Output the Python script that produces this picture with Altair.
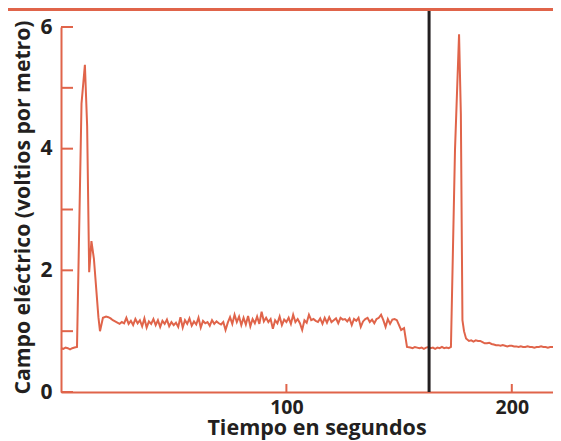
import altair as alt
import pandas as pd

# ---- data (time in seconds, field in V/m) ----
t_base1 = [0, 1, 2, 3, 4, 5, 6, 7.1]
v_base1 = [0.72, 0.71, 0.73, 0.72, 0.70, 0.72, 0.73, 0.74]

t_spike1 = [9.1, 10.6, 11.6, 12.5, 13.5, 14.6, 16.6, 17.3, 18.6]
v_spike1 = [4.74, 5.38, 4.37, 1.97, 2.48, 2.19, 1.23, 1.00, 1.22]

t_plateau = list(range(20, 150))
v_plateau = [
    1.24, 1.23, 1.21, 1.18, 1.16, 1.14, 1.12, 1.15, 1.13, 1.22,
    1.12, 1.17, 1.10, 1.20, 1.13, 1.18, 1.08, 1.21, 1.06, 1.16,
    1.12, 1.20, 1.10, 1.18, 1.07, 1.17, 1.12, 1.19, 1.08, 1.15,
    1.10, 1.14, 1.07, 1.23, 1.06, 1.18, 1.12, 1.21, 1.09, 1.16,
    1.11, 1.22, 1.06, 1.17, 1.13, 1.15, 1.09, 1.18, 1.12, 1.16,
    1.13, 1.11, 1.15, 1.02, 1.14, 1.23, 1.12, 1.27, 1.15, 1.24,
    1.10, 1.22, 1.11, 1.25, 1.08, 1.20, 1.13, 1.24, 1.12, 1.32,
    1.16, 1.22, 1.15, 1.20, 1.04, 1.18, 1.13, 1.24, 1.10, 1.19,
    1.15, 1.22, 1.12, 1.27, 1.15, 1.20, 1.13, 1.02, 1.18, 1.14,
    1.27, 1.18, 1.20, 1.17, 1.15, 1.21, 1.12, 1.22, 1.14, 1.23,
    1.15, 1.18, 1.21, 1.13, 1.22, 1.19, 1.20, 1.16, 1.21, 1.10,
    1.20, 1.17, 1.22, 1.07, 1.16, 1.20, 1.22, 1.15, 1.19, 1.13,
    1.20, 1.22, 1.27, 1.18, 1.07, 1.20, 1.12, 1.19, 1.20, 1.18,
]

t_drop = [150.9, 152.2, 153.5]
v_drop = [1.02, 1.05, 0.74]

t_base2 = list(range(155, 174))
v_base2 = [0.73, 0.72, 0.74, 0.73, 0.72, 0.73, 0.71, 0.73, 0.74, 0.72,
           0.73, 0.71, 0.73, 0.72, 0.74, 0.72, 0.73, 0.72, 0.74]

t_spike2 = [174.8, 176.6, 177.4, 178.1, 178.8, 179.7, 181]
v_spike2 = [3.98, 5.88, 4.57, 1.18, 1.00, 0.88, 0.84]

t_tail = list(range(182, 222))
v_tail = [0.85, 0.83, 0.85, 0.84, 0.84, 0.82, 0.80, 0.80, 0.81, 0.79,
          0.78, 0.77, 0.77, 0.76, 0.77, 0.76, 0.75, 0.76, 0.76, 0.75,
          0.75, 0.74, 0.75, 0.74, 0.74, 0.75, 0.74, 0.74, 0.73, 0.74,
          0.74, 0.75, 0.74, 0.74, 0.73, 0.74, 0.74, 0.74, 0.73, 0.74]

y_ticks = [0, 1, 2, 3, 4, 5, 6]
x_ticks = [100, 200]
marker_time = [163.3]

times = t_base1 + t_spike1 + t_plateau + t_drop + t_base2 + t_spike2 + t_tail
values = v_base1 + v_spike1 + v_plateau + v_drop + v_base2 + v_spike2 + v_tail
df = pd.DataFrame({"t": times, "v": values})

ORANGE = "#E0644A"
DARK = "#231F20"
FONT = "Open Sans"
W, H = 492, 365
X_MAX = W / 2.254

xscale = alt.Scale(domain=[0, X_MAX], nice=False, zero=False)
yscale = alt.Scale(domain=[0, 6], nice=False)

x_axis = alt.Axis(
    values=[100, 200], format="d", ticks=False, tickSize=0, grid=False,
    title="Tiempo en segundos", labelPadding=6, titlePadding=1,
    titleX=255.5, labelFontSize=19.5, titleFontSize=21.5,
)
y_axis = alt.Axis(
    values=[0, 2, 4, 6], format="d", ticks=False, tickSize=0, grid=False,
    title="Campo eléctrico (voltios por metro)", labelPadding=9,
    titlePadding=6.5, titleY=180, labelFontSize=21, titleFontSize=21.2,
)

line = alt.Chart(df).mark_line(color=ORANGE, strokeWidth=2).encode(
    x=alt.X("t:Q", scale=xscale, axis=x_axis),
    y=alt.Y("v:Q", scale=yscale, axis=y_axis),
)

ytick_layer = alt.Chart(pd.DataFrame({"v": y_ticks})).mark_rule(
    color=ORANGE, strokeWidth=2
).encode(
    y=alt.Y("v:Q", scale=yscale, axis=y_axis),
    x=alt.value(0), x2=alt.value(12),
)

xtick_layer = alt.Chart(pd.DataFrame({"t": x_ticks})).mark_rule(
    color=ORANGE, strokeWidth=2
).encode(
    x=alt.X("t:Q", scale=xscale, axis=x_axis),
    y=alt.value(H), y2=alt.value(H - 8),
)

marker = alt.Chart(pd.DataFrame({"t": marker_time})).mark_rule(
    color=DARK, strokeWidth=3
).encode(
    x=alt.X("t:Q", scale=xscale, axis=x_axis),
    y=alt.value(H), y2=alt.value(-19),
)

top_line = alt.Chart(pd.DataFrame({"a": [0]})).mark_rule(
    color=ORANGE, strokeWidth=3
).encode(
    x=alt.value(-53), x2=alt.value(W), y=alt.value(-17.5),
)

chart = alt.layer(line, ytick_layer, xtick_layer, marker, top_line).properties(
    width=W, height=H,
    autosize=alt.AutoSizeParams(type="none"),
    padding={"left": 53, "top": 19, "right": 0, "bottom": 55},
).configure_view(stroke=None).configure_axis(
    domainColor=ORANGE, domainWidth=2,
    labelFont=FONT, labelFontWeight="bold", labelColor=DARK,
    titleFont=FONT, titleFontWeight="bold", titleColor=DARK,
)

chart.save("out.html", embed_options={"renderer": "svg", "actions": False})
